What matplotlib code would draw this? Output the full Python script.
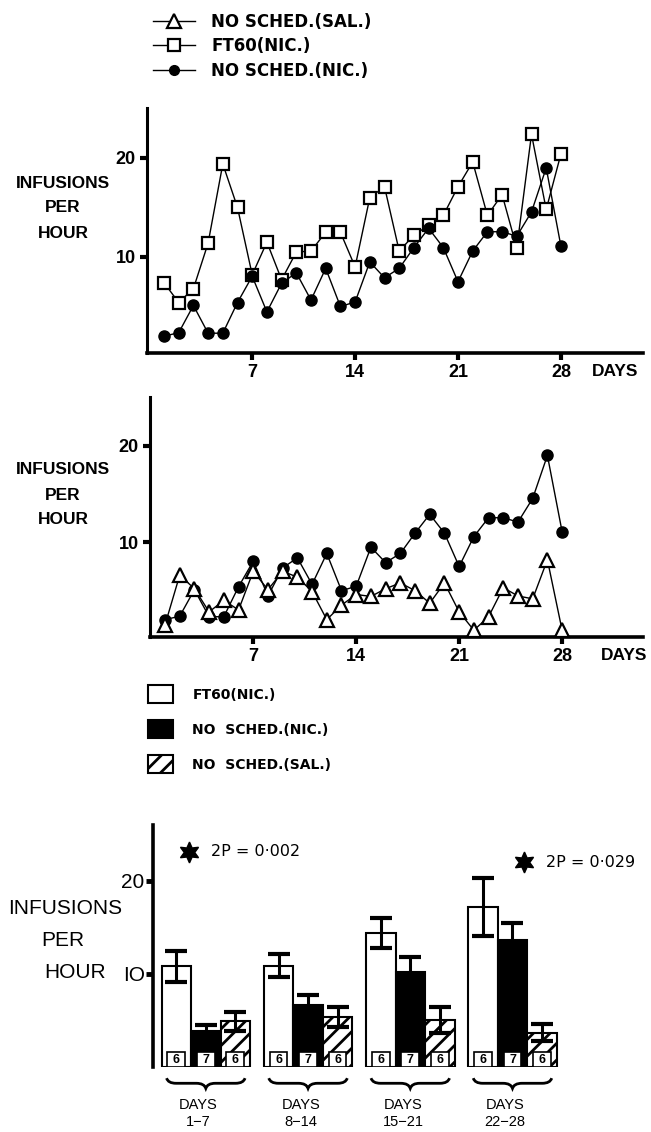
import numpy as np
import matplotlib
matplotlib.use('Agg')
import matplotlib.pyplot as plt
from matplotlib.lines import Line2D
from matplotlib.patches import Patch, Rectangle, PathPatch
from matplotlib.path import Path

plt.rcParams['font.family'] = ['Liberation Sans', 'DejaVu Sans']
plt.rcParams['hatch.linewidth'] = 2.0

# daily data, days 1-28
days = np.arange(1, 29)
ft60_nic = [7.4, 5.4, 6.8, 11.4, 19.4, 15.0, 8.2, 11.5, 7.7, 10.5, 10.6, 12.5, 12.5, 9.0,
            16.0, 17.1, 10.6, 12.2, 13.2, 14.2, 17.1, 19.6, 14.2, 16.3, 10.9, 22.4, 14.8, 20.4]
nosched_nic = [2.0, 2.35, 5.1, 2.3, 2.3, 5.4, 8.05, 4.45, 7.35, 8.4, 5.65, 8.85, 5.0, 5.45,
               9.5, 7.9, 8.85, 10.95, 12.9, 10.95, 7.5, 10.6, 12.55, 12.55, 12.1, 14.55, 19.0, 11.1]
nosched_sal = [1.45, 6.6, 5.2, 2.8, 4.0, 3.0, 7.0, 5.1, 7.0, 6.4, 4.9, 2.0, 3.5, 4.6,
               4.4, 5.2, 5.8, 5.0, 3.7, 5.8, 2.8, 0.9, 2.3, 5.3, 4.45, 4.15, 8.2, 0.9]

# weekly means +- s.e.m.
periods = ['1-7', '8-14', '15-21', '22-28']
bar_ft60 = [10.8, 10.9, 14.4, 17.2]
err_ft60 = [1.65, 1.25, 1.6, 3.1]
bar_nic = [3.9, 6.7, 10.25, 13.65]
err_nic = [0.6, 1.0, 1.55, 1.8]
bar_sal = [4.9, 5.4, 5.05, 3.7]
err_sal = [1.0, 1.1, 1.35, 0.9]
group_n = [6, 7, 6]
p_labels = ['2P = 0·002', '2P = 0·029']

W, H = 651, 1132


def box(l, t, r, b):
    return [l / W, 1 - b / H, (r - l) / W, (b - t) / H]


fig = plt.figure(figsize=(W / 100, H / 100), dpi=100)

tick_font = dict(family=['Liberation Sans', 'DejaVu Sans'], weight='bold', size=13)


def style_line_axes(ax):
    ax.spines['top'].set_visible(False)
    ax.spines['right'].set_visible(False)
    ax.spines['left'].set_linewidth(2.2)
    ax.spines['bottom'].set_linewidth(2.6)
    ax.set_xticks([7, 14, 21, 28])
    ax.set_yticks([10, 20])
    ax.tick_params(direction='out', length=5, width=3, pad=3)
    for lab in ax.get_xticklabels() + ax.get_yticklabels():
        lab.set_fontproperties(tick_font)
    ax.patch.set_visible(False)


# top panel
ax1 = fig.add_axes(box(147, 108, 643, 353))
ax1.plot(days, ft60_nic, color='black', lw=1, marker='s', ms=8, mfc='white',
         mec='black', mew=1.6, zorder=3, clip_on=False)
ax1.plot(days, nosched_nic, color='black', lw=1, marker='o', ms=8, zorder=4, clip_on=False)
ax1.set_xlim(-0.157, 33.585)
ax1.set_ylim(0.3, 25.05)
style_line_axes(ax1)

# middle panel
ax2 = fig.add_axes(box(150, 397, 643, 637))
ax2.plot(days, nosched_nic, color='black', lw=1, marker='o', ms=8, zorder=3, clip_on=False)
ax2.plot(days, nosched_sal, color='black', lw=1, marker='^', ms=10, mfc='white',
         mec='black', mew=1.6, zorder=4, clip_on=False)
ax2.set_xlim(-0.02, 33.5)
ax2.set_ylim(0.2, 25.05)
style_line_axes(ax2)

# bar panel
ax3 = fig.add_axes(box(153, 825, 651, 1067))
base = np.arange(len(periods)) * 3.465
ekw = dict(ecolor='black', elinewidth=2.2, capsize=8, capthick=3, zorder=5)
ax3.bar(base, bar_ft60, width=1, color='white', edgecolor='black', lw=1.5,
        yerr=err_ft60, error_kw=ekw, zorder=2)
ax3.bar(base + 1, bar_nic, width=1, color='black', edgecolor='black', lw=1.5,
        yerr=err_nic, error_kw=ekw, zorder=2)
ax3.bar(base + 2, bar_sal, width=1, color='white', edgecolor='black', lw=1.5,
        hatch='//', yerr=err_sal, error_kw=ekw, zorder=2)

# group sizes at the bottom of each bar
for k, n in enumerate(group_n):
    for b in base:
        ax3.add_patch(Rectangle((b + k - 0.3, 0), 0.6, 1.6, fc='white', ec='black',
                                lw=1.2, zorder=3))
        ax3.text(b + k, 0.8, str(n), ha='center', va='center', fontsize=9,
                 weight='bold', zorder=4)

ax3.set_xlim(-0.79, 16.09)
ax3.set_ylim(0, 26)
for s in ['top', 'right', 'bottom']:
    ax3.spines[s].set_visible(False)
ax3.spines['left'].set_linewidth(2.6)
ax3.set_xticks([])
ax3.set_yticks([10, 20])
ax3.set_yticklabels(['IO', '20'])
ax3.tick_params(axis='y', direction='out', length=5, width=3.5, pad=1, labelsize=15)
ax3.patch.set_visible(False)

# braces and period labels under the groups
for b, per in zip(base, periods):
    x0, x1 = b - 0.33, b + 2.33
    xm = (x0 + x1) / 2
    w = x1 - x0
    yb, h = -1.75, 0.55
    verts = [(x0, yb + h), (x0 + 0.02 * w, yb), (x0 + 0.12 * w, yb),
             (xm - 0.12 * w, yb),
             (xm - 0.02 * w, yb), (xm, yb - h),
             (xm + 0.02 * w, yb), (xm + 0.12 * w, yb),
             (x1 - 0.12 * w, yb),
             (x1 - 0.02 * w, yb), (x1, yb + h)]
    codes = [Path.MOVETO, Path.CURVE3, Path.CURVE3, Path.LINETO,
             Path.CURVE3, Path.CURVE3, Path.CURVE3, Path.CURVE3,
             Path.LINETO, Path.CURVE3, Path.CURVE3]
    ax3.add_patch(PathPatch(Path(verts, codes), fc='none', ec='black', lw=2,
                            clip_on=False))
    ax3.text(b + 0.75, -4.1, 'DAYS', ha='center', va='center', fontsize=10.5,
             clip_on=False)
    ax3.text(b + 0.75, -5.95, per.replace('-', '\u2212'), ha='center', va='center',
             fontsize=10.5, clip_on=False)

# significance stars
star_x = [0.43, 11.78]
star_y = [23.1, 22.0]
for sx, sy, lab in zip(star_x, star_y, p_labels):
    ax3.plot(sx, sy, marker=(6, 1, 0), ms=15, color='black', clip_on=False)
    ax3.text(sx + 0.75, sy, lab, ha='left', va='center', fontsize=11.5,
             family=['DejaVu Sans'], clip_on=False)

# legends
leg1 = fig.legend(
    handles=[Line2D([], [], color='black', lw=1, marker='^', ms=10, mfc='white', mew=1.6),
             Line2D([], [], color='black', lw=1, marker='s', ms=8, mfc='white', mew=1.6),
             Line2D([], [], color='black', lw=1, marker='o', ms=7)],
    labels=['NO SCHED.(SAL.)', 'FT60(NIC.)', 'NO SCHED.(NIC.)'],
    loc='upper left', bbox_to_anchor=(153 / W, 1 - 13 / H), frameon=False,
    prop=dict(family=['DejaVu Sans'], weight='bold', size=12),
    handlelength=2.5, handletextpad=1.0, labelspacing=0.38, borderpad=0,
    borderaxespad=0)

leg2 = fig.legend(
    handles=[Patch(fc='white', ec='black', lw=1.5),
             Patch(fc='black', ec='black', lw=1.5),
             Patch(fc='white', ec='black', lw=1.5, hatch='//')],
    labels=['FT60(NIC.)', 'NO  SCHED.(NIC.)', 'NO  SCHED.(SAL.)'],
    loc='upper left', bbox_to_anchor=(148 / W, 1 - 685 / H), frameon=False,
    prop=dict(family=['DejaVu Sans'], weight='bold', size=10),
    handlelength=1.8, handleheight=1.65, handletextpad=1.4, labelspacing=1.2,
    borderpad=0, borderaxespad=0)

# overlay for axis titles
ov = fig.add_axes([0, 0, 1, 1])
ov.set_xlim(0, W)
ov.set_ylim(H, 0)
ov.axis('off')
ov.patch.set_visible(False)

for yy in [(183, 208, 234), (470, 495, 520)]:
    for word, y in zip(['INFUSIONS', 'PER', 'HOUR'], yy):
        ov.text(63, y, word, ha='center', va='center', fontsize=12.5, weight='bold')

ov.text(65, 908, 'INFUSIONS', ha='center', va='center', fontsize=15)
ov.text(63, 940, 'PER', ha='center', va='center', fontsize=15)
ov.text(75, 972, 'HOUR', ha='center', va='center', fontsize=15)

ov.text(615, 372, 'DAYS', ha='center', va='center', fontsize=12.5, weight='bold')
ov.text(624, 655, 'DAYS', ha='center', va='center', fontsize=12.5, weight='bold')

fig.savefig('out.png', dpi=100)
